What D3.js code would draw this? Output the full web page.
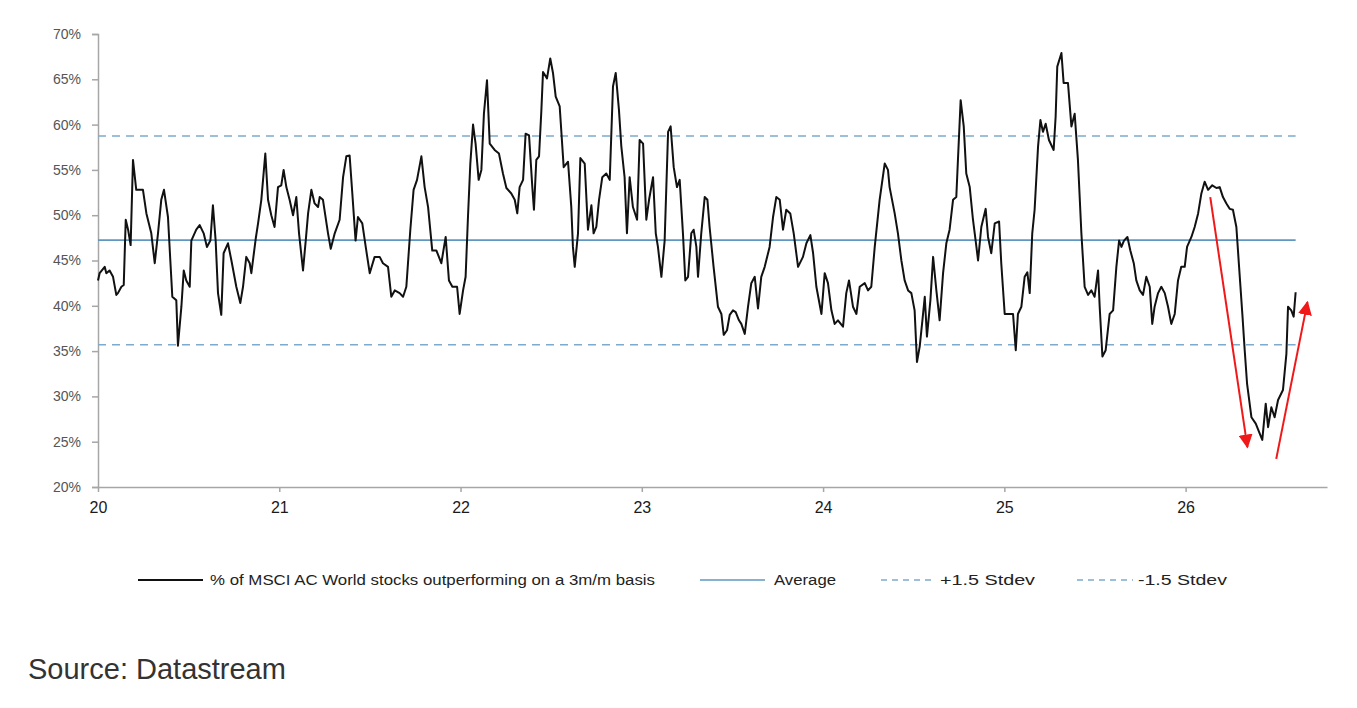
<!DOCTYPE html>
<html>
<head>
<meta charset="utf-8">
<script src="https://cdn.jsdelivr.net/npm/d3@7"></script>
<style>
  body { margin: 0; background: #fff; }
  svg { display: block; font-family: "Liberation Sans", Arial, sans-serif; }
</style>
</head>
<body>
<svg width="1357" height="708"></svg>
<script>
// % of MSCI AC World stocks outperforming, [year (20 = 2020), value %]
let outperf = [
  [20.000,42.8],[20.009,43.6],[20.037,44.3],[20.046,43.6],[20.064,43.9],[20.083,43.2],[20.101,41.2],[20.110,41.4],[20.129,42.1],[20.142,42.3],
  [20.153,49.5],[20.166,48.4],[20.180,46.7],[20.193,56.1],[20.211,52.8],[20.248,52.8],[20.267,50.2],[20.294,48.0],[20.313,44.7],[20.331,48.0],
  [20.349,51.7],[20.364,52.8],[20.386,49.8],[20.399,45.0],[20.410,41.0],[20.432,40.6],[20.441,35.6],[20.460,39.9],[20.473,43.9],[20.487,42.8],
  [20.506,42.1],[20.515,47.2],[20.542,48.4],[20.561,48.9],[20.583,48.0],[20.601,46.5],[20.620,47.2],[20.634,51.1],[20.649,47.2],[20.662,41.4],
  [20.680,39.0],[20.693,45.8],[20.717,46.9],[20.736,45.0],[20.763,42.1],[20.785,40.3],[20.800,42.1],[20.818,45.4],[20.837,44.7],[20.846,43.6],
  [20.870,47.4],[20.883,49.1],[20.901,51.7],[20.923,56.8],[20.938,51.7],[20.956,50.0],[20.974,48.7],[20.993,53.1],[21.011,53.3],[21.024,55.0],
  [21.039,53.1],[21.057,51.7],[21.076,50.0],[21.094,52.0],[21.109,48.0],[21.131,43.9],[21.146,47.2],[21.159,50.2],[21.177,52.8],[21.195,51.3],
  [21.214,50.9],[21.223,52.0],[21.241,51.7],[21.269,48.0],[21.284,46.3],[21.306,48.0],[21.333,49.5],[21.352,54.2],[21.370,56.5],[21.388,56.6],
  [21.403,52.4],[21.421,47.2],[21.434,49.8],[21.458,49.1],[21.477,46.5],[21.499,43.6],[21.526,45.4],[21.554,45.4],[21.572,44.7],[21.600,44.3],
  [21.618,41.0],[21.637,41.7],[21.664,41.4],[21.683,41.0],[21.701,42.1],[21.723,48.4],[21.741,52.8],[21.760,53.9],[21.784,56.5],[21.802,53.1],
  [21.821,50.9],[21.844,46.1],[21.867,46.1],[21.894,44.7],[21.918,47.6],[21.936,42.8],[21.955,42.1],[21.981,42.1],[21.995,39.1],[22.014,41.7],
  [22.028,43.2],[22.041,49.8],[22.054,55.7],[22.069,60.0],[22.083,57.9],[22.100,53.9],[22.115,55.0],[22.129,61.2],[22.146,64.9],[22.161,57.9],
  [22.188,57.2],[22.212,56.8],[22.234,54.6],[22.253,53.0],[22.280,52.4],[22.299,51.7],[22.313,50.2],[22.326,53.1],[22.345,53.9],[22.359,59.0],
  [22.378,58.8],[22.396,53.1],[22.405,50.6],[22.418,56.1],[22.433,56.5],[22.446,61.6],[22.455,65.8],[22.477,65.1],[22.495,67.3],[22.510,65.7],
  [22.525,63.1],[22.547,62.0],[22.569,55.3],[22.593,55.9],[22.611,50.9],[22.620,46.5],[22.630,44.3],[22.648,48.0],[22.661,56.3],[22.685,55.7],
  [22.703,48.4],[22.722,51.1],[22.734,48.0],[22.749,48.7],[22.764,51.7],[22.782,54.2],[22.804,54.6],[22.823,53.9],[22.841,64.2],[22.856,65.7],
  [22.874,61.6],[22.887,57.6],[22.905,54.2],[22.918,48.0],[22.933,54.2],[22.951,50.9],[22.974,49.5],[22.988,58.3],[23.007,57.9],[23.025,49.5],
  [23.040,51.7],[23.062,54.2],[23.077,48.0],[23.089,46.5],[23.108,43.2],[23.126,47.2],[23.145,59.2],[23.159,59.8],[23.176,55.3],[23.194,53.1],
  [23.209,53.9],[23.227,48.0],[23.240,42.8],[23.255,43.2],[23.273,48.0],[23.286,48.4],[23.301,46.5],[23.310,43.2],[23.328,48.0],[23.347,52.0],
  [23.362,51.7],[23.374,48.7],[23.396,44.3],[23.420,39.9],[23.439,39.1],[23.452,36.8],[23.470,37.3],[23.485,39.0],[23.503,39.5],[23.518,39.3],
  [23.536,38.4],[23.549,38.0],[23.568,36.9],[23.586,39.9],[23.604,42.5],[23.623,43.2],[23.641,39.7],[23.659,43.2],[23.678,44.3],[23.705,46.5],
  [23.724,49.8],[23.742,52.0],[23.761,51.7],[23.779,48.4],[23.797,50.6],[23.819,50.2],[23.838,48.0],[23.862,44.3],[23.889,45.4],[23.908,46.9],
  [23.930,47.8],[23.945,45.8],[23.963,42.1],[23.991,39.1],[24.009,43.6],[24.027,42.5],[24.046,39.5],[24.064,38.0],[24.082,38.4],[24.110,37.7],
  [24.128,41.4],[24.143,42.8],[24.165,39.9],[24.184,39.1],[24.202,42.1],[24.230,42.5],[24.248,41.7],[24.266,42.1],[24.285,46.5],[24.312,51.7],
  [24.340,55.7],[24.358,55.0],[24.367,53.1],[24.395,50.2],[24.413,48.0],[24.432,45.0],[24.450,42.8],[24.469,41.7],[24.487,41.4],[24.505,39.5],
  [24.518,33.8],[24.533,35.5],[24.548,38.4],[24.561,41.0],[24.573,36.6],[24.592,40.6],[24.607,45.4],[24.625,41.7],[24.643,38.4],[24.662,43.6],
  [24.680,46.9],[24.698,48.4],[24.717,51.7],[24.735,52.0],[24.744,56.1],[24.759,62.7],[24.776,59.8],[24.790,54.6],[24.809,53.1],[24.827,49.5],
  [24.846,46.5],[24.855,45.0],[24.873,48.7],[24.897,50.7],[24.910,47.6],[24.928,45.8],[24.947,49.1],[24.971,49.3],[24.983,44.7],[25.002,39.1],
  [25.029,39.1],[25.048,39.1],[25.063,35.1],[25.075,39.1],[25.094,39.9],[25.112,43.2],[25.127,43.7],[25.140,41.4],[25.154,48.0],[25.167,50.6],
  [25.186,57.6],[25.199,60.5],[25.213,59.2],[25.228,60.1],[25.246,58.3],[25.272,57.2],[25.283,60.9],[25.292,66.4],[25.315,67.9],[25.327,64.6],
  [25.351,64.6],[25.370,59.8],[25.388,61.2],[25.406,56.1],[25.425,48.0],[25.443,42.1],[25.462,41.2],[25.480,41.7],[25.498,41.0],[25.517,43.9],
  [25.526,39.9],[25.541,34.4],[25.559,35.1],[25.581,39.1],[25.600,39.5],[25.618,44.3],[25.633,47.2],[25.646,46.5],[25.660,47.2],[25.679,47.6],
  [25.695,46.1],[25.714,44.7],[25.728,42.8],[25.747,41.7],[25.765,41.2],[25.783,43.2],[25.802,42.1],[25.816,38.0],[25.829,39.9],[25.848,41.4],
  [25.866,42.1],[25.885,41.4],[25.903,39.9],[25.921,38.0],[25.940,39.1],[25.958,42.8],[25.976,44.3],[25.995,44.3],[26.008,46.5],[26.032,47.6],
  [26.050,48.7],[26.069,50.2],[26.087,52.4],[26.105,53.7],[26.124,52.8],[26.147,53.3],[26.170,53.0],[26.188,53.1],[26.206,52.0],[26.225,51.3],
  [26.243,50.7],[26.261,50.6],[26.280,48.7],[26.295,44.3],[26.313,39.1],[26.326,35.1],[26.339,31.4],[26.363,27.7],[26.387,27.0],[26.409,25.9],
  [26.423,25.2],[26.442,29.2],[26.455,26.6],[26.473,28.8],[26.491,27.7],[26.510,29.6],[26.537,30.7],[26.556,34.7],[26.565,39.9],[26.583,39.5],
  [26.596,38.8],[26.607,41.5]
]

let refNames = ["Average", "+1.5 Stdev", "-1.5 Stdev"]
let refValues = [47.25, 58.75, 35.7]

let yTicks = [20, 25, 30, 35, 40, 45, 50, 55, 60, 65, 70]
let xTicks = [20, 21, 22, 23, 24, 25, 26]
let xDomain = [20, 26.78]

// red annotation arrows, [year, value] from -> to
let arrowFrom = [[26.136, 52.0], [26.50, 23.1]]
let arrowTo = [[26.341, 24.4], [26.672, 40.4]]

let seriesName = "% of MSCI AC World stocks outperforming on a 3m/m basis"

let svg = d3.select("svg")
let mLeft = 98, mTop = 34, mRight = 1327, mBottom = 487

let x = d3.scaleLinear().domain(xDomain).range([mLeft, mRight])
let y = d3.scaleLinear().domain([20, 70]).range([mBottom, mTop])

let axisColor = "#a6a6a6"
let avgColor = "#5f97c0"
let sdColor = "#7eaacb"

// y axis
let yAxis = svg.append("g")
  .attr("transform", "translate(" + mLeft + ",0)")
  .call(d3.axisLeft(y).tickValues(yTicks).tickSize(6).tickPadding(11).tickFormat(d => d + "%"))
yAxis.select(".domain").attr("stroke", axisColor).attr("stroke-width", 1.5)
yAxis.selectAll(".tick line").attr("stroke", axisColor).attr("stroke-width", 1.5)
yAxis.selectAll(".tick text").attr("fill", "#555").attr("font-size", "14px")
  .attr("font-family", "'Liberation Sans', Arial, sans-serif")

// x axis
let xAxis = svg.append("g")
  .attr("transform", "translate(0," + mBottom + ")")
  .call(d3.axisBottom(x).tickValues(xTicks).tickSize(5).tickSizeOuter(0).tickPadding(10).tickFormat(d => d))
xAxis.select(".domain").attr("stroke", axisColor).attr("stroke-width", 1.5)
xAxis.selectAll(".tick line").attr("stroke", axisColor).attr("stroke-width", 1.5)
xAxis.selectAll(".tick text").attr("fill", "#1a1a1a").attr("font-size", "16px")
  .attr("font-family", "'Liberation Sans', Arial, sans-serif")

// reference lines
let tStart = outperf[0][0], tEnd = outperf[outperf.length - 1][0]
svg.selectAll("line.ref")
  .data(refValues)
  .enter().append("line")
  .attr("class", "ref")
  .attr("x1", x(tStart))
  .attr("x2", x(tEnd))
  .attr("y1", d => y(d))
  .attr("y2", d => y(d))
  .attr("stroke", (d, i) => i == 0 ? avgColor : sdColor)
  .attr("stroke-width", 1.6)
  .attr("stroke-dasharray", (d, i) => i == 0 ? null : "8,6")

// main series
let line = d3.line().x(d => x(d[0])).y(d => y(d[1]))
svg.append("path")
  .datum(outperf)
  .attr("d", line)
  .attr("fill", "none")
  .attr("stroke", "#111")
  .attr("stroke-width", 2)
  .attr("stroke-linejoin", "round")

// arrows
svg.append("defs").append("marker")
  .attr("id", "head")
  .attr("viewBox", "0 0 10 10")
  .attr("refX", 9)
  .attr("refY", 5)
  .attr("markerWidth", 7)
  .attr("markerHeight", 7)
  .attr("markerUnits", "strokeWidth")
  .attr("orient", "auto")
  .append("path")
  .attr("d", "M0,0 L10,5 L0,10 Z")
  .attr("fill", "#f01818")

svg.selectAll("line.arrow")
  .data(arrowFrom)
  .enter().append("line")
  .attr("class", "arrow")
  .attr("x1", d => x(d[0]))
  .attr("y1", d => y(d[1]))
  .attr("x2", (d, i) => x(arrowTo[i][0]))
  .attr("y2", (d, i) => y(arrowTo[i][1]))
  .attr("stroke", "#f01818")
  .attr("stroke-width", 2)
  .attr("marker-end", "url(#head)")

// legend
let legY = 580
let legend = [
  {name: seriesName, x0: 138, x1: 203, tx: 210, tw: 445, color: "#111", dash: null, w: 2},
  {name: refNames[0], x0: 700, x1: 765, tx: 774, tw: 62, color: avgColor, dash: null, w: 1.6},
  {name: refNames[1], x0: 881, x1: 936, tx: 940, tw: 95, color: sdColor, dash: "6,5", w: 1.6},
  {name: refNames[2], x0: 1077, x1: 1133, tx: 1138, tw: 89, color: sdColor, dash: "6,5", w: 1.6}
]
let lg = svg.append("g")
legend.forEach(d => {
  lg.append("line")
    .attr("x1", d.x0).attr("x2", d.x1)
    .attr("y1", legY).attr("y2", legY)
    .attr("stroke", d.color)
    .attr("stroke-width", d.w)
    .attr("stroke-dasharray", d.dash)
  lg.append("text")
    .attr("x", d.tx)
    .attr("y", legY + 5)
    .attr("font-size", "14px")
    .attr("fill", "#222")
    .attr("textLength", d.tw)
    .attr("lengthAdjust", "spacingAndGlyphs")
    .text(d.name)
})

svg.append("text")
  .attr("x", 28)
  .attr("y", 679)
  .attr("font-size", "29px")
  .attr("fill", "#333")
  .text("Source: Datastream")
</script>
</body>
</html>
